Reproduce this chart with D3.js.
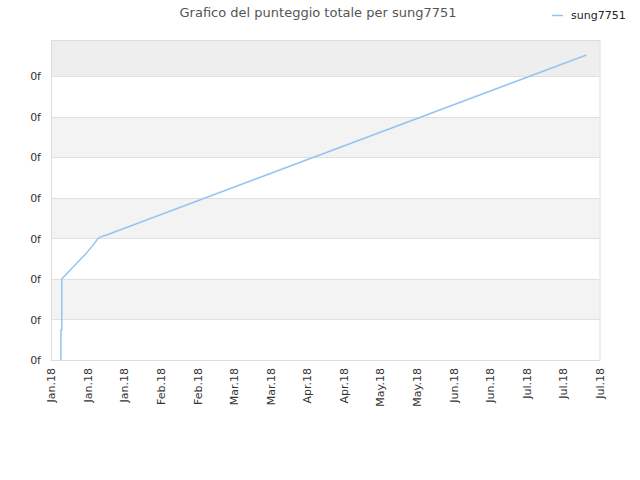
<!DOCTYPE html>
<html>
<head>
<meta charset="utf-8">
<script src="https://cdn.jsdelivr.net/npm/d3@7"></script>
<style>
  body { margin: 0; background: #fff; }
  text { font-family: "DejaVu Sans", sans-serif; }
</style>
</head>
<body>
<script>
// punti della serie (data, punteggio)
const dates = ['2018-01-04 19:00', '2018-01-04 19:00', '2018-01-05 03:00', '2018-01-05 03:00',
               '2018-01-08 00:00', '2018-01-11 00:00', '2018-01-14 00:00', '2018-01-17 00:00',
               '2018-01-19 00:00', '2018-01-20 00:00', '2018-01-22 00:00', '2018-07-25 00:00'];
const scores = [0, 0.74, 0.74, 2.0, 2.2, 2.4, 2.6, 2.83, 3.0, 3.04, 3.08, 7.53];

const xTicks = ['2018-01-01', '2018-01-15', '2018-01-29', '2018-02-12', '2018-02-26', '2018-03-12',
                '2018-03-26', '2018-04-09', '2018-04-23', '2018-05-07', '2018-05-21', '2018-06-04',
                '2018-06-18', '2018-07-02', '2018-07-16', '2018-07-30'];
const yTicks = [0, 1, 2, 3, 4, 5, 6, 7];

const seriesName = 'sung7751';
const title = 'Grafico del punteggio totale per sung7751';

const width = 640, height = 480;
const margin = {top: 40, right: 40, bottom: 120, left: 51};

const parseTime = d3.timeParse('%Y-%m-%d %H:%M');
const parseDay = d3.timeParse('%Y-%m-%d');
const data = dates.map((d, i) => ({date: parseTime(d), v: scores[i]}));

const svg = d3.select('body')
    .append('svg')
    .attr('width', width)
    .attr('height', height);

const x = d3.scaleTime()
    .domain([parseDay(xTicks[0]), parseDay(xTicks[xTicks.length - 1])])
    .range([margin.left, width - margin.right - 0.5]);

const y = d3.scaleLinear()
    .domain([0, 7.9])
    .range([height - margin.bottom, margin.top]);

// bande alternate di sfondo
const bands = yTicks.map((t, i) => [t, i + 1 < yTicks.length ? yTicks[i + 1] : y.domain()[1]]);
svg.append('g')
    .selectAll('rect')
    .data(bands)
    .join('rect')
    .attr('x', margin.left)
    .attr('width', x.range()[1] - margin.left)
    .attr('y', d => y(d[1]))
    .attr('height', d => y(d[0]) - y(d[1]))
    .attr('fill', (d, i) => i === bands.length - 1 ? '#eeeeee' : (i % 2 ? '#f3f3f3' : '#ffffff'));

// griglia orizzontale
svg.append('g')
    .selectAll('line')
    .data(yTicks)
    .join('line')
    .attr('x1', margin.left)
    .attr('x2', x.range()[1])
    .attr('y1', d => Math.round(y(d)) + 0.5)
    .attr('y2', d => Math.round(y(d)) + 0.5)
    .attr('stroke', '#e0e0e0');

// bordo area
svg.append('rect')
    .attr('x', margin.left + 0.5)
    .attr('y', margin.top + 0.5)
    .attr('width', x.range()[1] - margin.left)
    .attr('height', y(0) - margin.top)
    .attr('fill', 'none')
    .attr('stroke', '#dddddd');

// asse y
const yAxis = svg.append('g')
    .attr('transform', `translate(${margin.left},0)`)
    .call(d3.axisLeft(y).tickValues(yTicks).tickFormat(() => '0f').tickSize(0).tickPadding(10));
yAxis.select('.domain').remove();
yAxis.selectAll('text')
    .attr('fill', '#333')
    .style('font-size', '11px');

// asse x
const xAxis = svg.append('g')
    .attr('transform', `translate(0,${y(0)})`)
    .call(d3.axisBottom(x).tickValues(xTicks.map(parseDay)).tickFormat(d3.timeFormat('%b.%y')).tickSize(0));
xAxis.select('.domain').remove();
xAxis.selectAll('text')
    .attr('fill', '#333')
    .style('font-size', '11px')
    .attr('text-anchor', 'end')
    .attr('transform', 'rotate(-90)')
    .attr('x', -8)
    .attr('y', 0)
    .attr('dy', '0.35em');

// linea
const line = d3.line()
    .x(d => x(d.date))
    .y(d => y(d.v));

svg.append('path')
    .datum(data)
    .attr('fill', 'none')
    .attr('stroke', '#96c4f2')
    .attr('stroke-width', 1.5)
    .attr('d', line);

// titolo
svg.append('text')
    .attr('x', 318)
    .attr('y', 17)
    .attr('text-anchor', 'middle')
    .attr('fill', '#555')
    .style('font-size', '13px')
    .text(title);

// legenda
svg.append('line')
    .attr('x1', 552).attr('x2', 563)
    .attr('y1', 15.5).attr('y2', 15.5)
    .attr('stroke', '#96c4f2')
    .attr('stroke-width', 1.5);
svg.append('text')
    .attr('x', 571)
    .attr('y', 19)
    .attr('fill', '#222')
    .style('font-size', '11px')
    .text(seriesName);
</script>
</body>
</html>
